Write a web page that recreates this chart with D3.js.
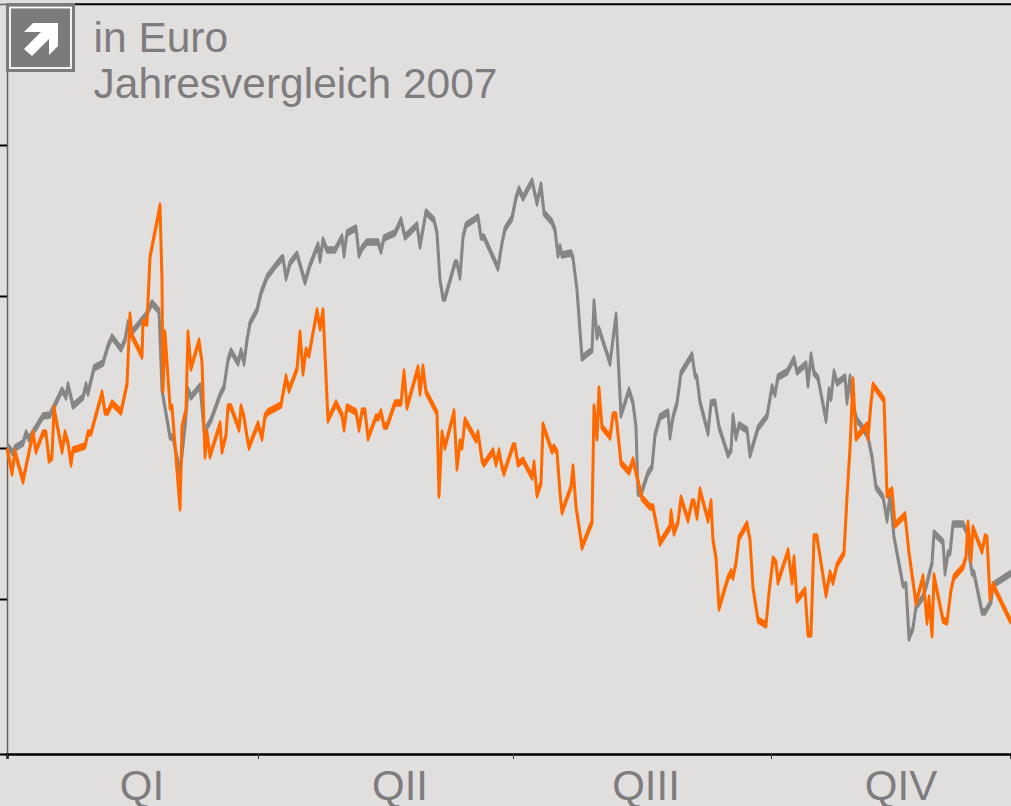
<!DOCTYPE html>
<html>
<head>
<meta charset="utf-8">
<style>
    html, body { margin: 0; padding: 0; background: #e0dfdd; overflow: hidden; }
    text { font-family: "Liberation Sans", Arial, sans-serif; fill: #7f7c80; }
</style>
</head>
<body>
<script src="https://d3js.org/d3.v7.min.js"></script>
<script>
    // trading sessions of 2007 (x), price (y, axis has no labels)
    let grey_session = [0,1.5,2,4,4.75,5.5,9,10.75,13.75,14.75,15.25,16.5,19,19.75,20.25,21.75,24,25.25,26.25,28.5,29.5,30.25,31.25,34.75,36.25,38,38.75,40.75,41.5,43.25,44.5,45.25,46,48.25,49.5,50,51,53.25,54.25,55.25,56,57.75,58.5,59.25,60,60.75,62.5,63.5,65,67.25,68.75,69,69.75,70.75,72.5,74.5,75.75,77.75,78.25,79,80,82,83.75,84.25,85,87.25,88,88.75,90,92.75,93.5,94.25,97,98.5,99.5,102.5,103.25,104.75,106.75,107.5,108.25,109,109.5,112,112.5,113.25,114,114.75,117.75,118.5,119.25,122.75,123.75,124.5,126.25,127.25,128,129,131.25,132.5,133.5,134.25,136.25,137,137.75,138.25,138.75,141,141.5,142.5,143.75,146.25,146.75,147.5,148,150.75,152.25,153.5,155.5,156.5,157.25,157.75,158.5,160.25,161.25,162,163.25,165.25,165.75,166.5,167.5,168.5,171.25,172,172.5,173.25,175.25,176,177,178,180.25,181,181.5,182.25,183,185,185.75,186.5,187.75,190,191.25,192,192.75,195,196.75,197.5,199.75,200.25,201,201.75,202.75,204.75,205.5,206,206.75,207.5,209.5,210,210.75,211.5,212.5,214,215.25,216.25,217.25,219,220,220.75,221.75,224,224.75,225.5,226.5,227.25,229,230,231.25,231.75,234,234.5,235.25,235.75,236.5,239,240,240.75,241.25,241.75,243.75,244.5,246,246.5,251]
    let grey_price = [309,301,306,311,321,315,338,339,364,357,369,348,357,369,361,386,391,408,417,405,414,431,422,439,451,443,364,317,317,281,327,364,357,368,314,327,334,359,367,394,403,391,403,391,414,431,444,461,477,489,496,496,476,491,500,472,489,509,494,514,504,504,517,499,521,526,499,506,512,512,503,516,521,534,517,529,508,542,534,521,474,456,456,491,491,477,517,529,537,517,517,486,511,525,536,556,565,556,573,551,569,541,532,524,499,507,499,501,496,464,396,404,452,417,425,391,439,339,364,351,327,261,260,281,287,319,337,342,317,337,351,381,399,379,376,352,321,351,352,327,299,304,338,316,329,324,299,309,326,338,367,360,377,382,395,382,390,369,399,381,376,334,364,356,382,371,377,352,377,347,334,326,317,297,267,257,234,259,217,169,169,116,126,147,157,171,191,221,212,181,201,201,230,230,222,194,181,181,142,142,152,169,181]

    let orange_session = [0,1.25,2,4,6.5,7.25,9,9.75,10.5,11.25,11.75,13.75,14.5,15.25,16,16.5,19.5,20.25,21,23.75,24.5,25.25,26.25,28.5,30,30.75,31.25,33.75,34,35,35.75,38.25,38.75,39,39.5,40.75,41.25,43.25,43.75,44.75,45.25,46,48,48.75,49.5,50,50.75,53.25,53.75,54.75,55.25,56,58,58.5,59.25,60,60.5,62.75,63.75,64.5,65.25,68.5,69.75,70.5,72.5,73.25,74,74.75,75.5,77.5,78.25,79,80.25,82.25,83.75,84.25,85,87.25,88,88.75,89.5,90.25,92.25,92.75,93.5,94.25,95,97,98.5,99.25,100,102.75,103.25,104,104.75,107.5,108,108.75,109.5,111.75,112.5,113.25,113.75,114.5,117.25,117.75,118.75,119.25,121.5,122.25,123,123.75,124.25,126.5,127,127.75,129,131.25,131.75,132.5,133.5,134,136.25,136.75,137.5,138.25,138.75,141,141.5,142.25,142.75,143.75,146.25,146.75,147.5,148,148.75,150.75,151.5,152.25,153.5,155.5,156.5,158.75,160.75,161.5,163.25,165.75,166,166.75,167.75,168.5,170.25,171.25,171.75,172.5,173.25,175.25,176,176.5,177.25,178,180.25,181,181.5,182.25,183,185,185.75,186.5,187.75,189.75,190.5,191.5,192.25,192.75,195.25,196.25,196.75,197.5,199.5,200.25,201,201.75,202.5,204.75,205.75,206.5,207.5,209.25,210,210.75,211.5,212.25,215,215.25,216,216.5,219.25,220,221.25,222,224.5,225.5,227.25,229,230,230.5,231.25,231.75,234,235,236,236.75,239,239.75,240.25,241,241.5,243.75,244.5,245,245.75,246.5,251]
    let orange_price = [306,281,302,273,321,303,321,321,294,297,346,303,321,311,290,304,308,321,321,361,342,342,351,342,370,439,418,398,432,431,497,548,474,364,421,347,347,246,327,344,421,386,413,392,298,321,298,330,303,319,347,347,325,347,337,317,307,330,316,338,342,349,377,364,385,421,381,404,399,443,426,443,334,351,339,325,347,342,325,343,343,316,337,336,342,328,328,351,351,382,347,386,361,387,362,341,259,321,307,342,286,312,307,334,314,321,294,290,303,290,303,287,281,308,308,290,294,277,291,259,271,329,303,307,302,261,242,267,287,247,234,207,232,347,316,365,327,317,339,339,291,282,294,256,247,247,211,227,242,221,232,256,234,252,252,237,264,234,252,214,196,146,176,182,177,191,216,230,214,166,134,129,161,195,191,172,203,172,196,154,164,120,120,217,217,159,181,172,189,201,257,306,374,316,329,316,351,369,354,259,264,229,239,201,151,177,132,156,119,178,134,132,164,177,187,197,231,194,226,203,217,216,156,169,132]

    let quarter_ticks = [0, 62.75, 126.5, 191]
    let quarter_names = ["QI", "QII", "QIII", "QIV"]
    let quarter_label_at = [33.75, 98.25, 159.75, 223.5]
    let price_ticks = [0, 155, 306, 458, 609]

    let head_line = "in Euro"
    let sub_line = "Jahresvergleich 2007"

    let svgContainer = d3.select("body").append("svg")
                                        .attr("width", 1011).attr("height", 806)
                                        .style("display", "block")

    // the source picture was stretched in height, flat parts of the lines look thicker
    let stretch = 2.5

    let x = d3.scaleLinear().domain([0, 251]).range([7, 1011])
    let y = d3.scaleLinear().domain([0, 750]).range([754, 4])
    let y_line = d3.scaleLinear().domain([0, 750]).range([754 / stretch, 4 / stretch])

    svgContainer.append("rect").attr("width", 1011).attr("height", 806).attr("fill", "#e0dfdd")

    // left axis
    let left_axis = svgContainer.append("g").attr("transform", "translate(7,0)")
        .call(d3.axisLeft(y).tickValues(price_ticks).tickSize(7).tickFormat(""))
    left_axis.select(".domain").attr("stroke", "#666462").attr("stroke-width", 1.5)
    left_axis.selectAll(".tick line").attr("stroke", "#000").attr("stroke-width", 2)

    // bottom axis
    let bottom_axis = svgContainer.append("g").attr("transform", "translate(0,754)")
        .call(d3.axisBottom(x).tickValues(quarter_ticks).tickSize(5).tickFormat(""))
    bottom_axis.select(".domain").attr("stroke", "#000").attr("stroke-width", 2.4)
    bottom_axis.selectAll(".tick line").attr("stroke", "#333").attr("stroke-width", 1)

    // top border
    svgContainer.append("line").attr("x1", 7).attr("x2", 1011).attr("y1", 4.3).attr("y2", 4.3)
        .attr("stroke", "#000").attr("stroke-width", 2)

    let draw_line = (sessions, prices, color) => {
        let line = d3.line().x(d => x(sessions[d])).y(d => y_line(prices[d]))
        svgContainer.append("g").attr("transform", "scale(1," + stretch + ")")
            .append("path")
            .attr("d", line(d3.range(sessions.length)))
            .attr("fill", "none")
            .attr("stroke", color)
            .attr("stroke-width", 3)
            .attr("stroke-linejoin", "round")
    }

    draw_line(grey_session, grey_price, "#868686")
    draw_line(orange_session, orange_price, "#ff6a00")

    // quarter names
    svgContainer.selectAll(".quarter").data(quarter_names).enter().append("text")
        .attr("class", "quarter")
        .attr("x", (d, i) => x(quarter_label_at[i]))
        .attr("y", 800)
        .attr("text-anchor", "middle")
        .attr("font-size", 42)
        .text(d => d)

    // titles
    svgContainer.append("text").attr("x", 93.5).attr("y", 52).attr("font-size", 42.5).text(head_line)
    svgContainer.append("text").attr("x", 93.5).attr("y", 98).attr("font-size", 42.5).text(sub_line)

    // arrow icon
    svgContainer.append("rect").attr("x", 6).attr("y", 3).attr("width", 69).attr("height", 69).attr("fill", "#7d7a7e")
    svgContainer.append("rect").attr("x", 10).attr("y", 7.5).attr("width", 61).attr("height", 60.5)
        .attr("fill", "none").attr("stroke", "#fff").attr("stroke-width", 1.8)
    svgContainer.append("polygon")
        .attr("points", "33,23 58,23 58,46 49,55 49,39 32,56 24,49 41,32 24,32")
        .attr("fill", "#fff")
</script>
</body>
</html>
